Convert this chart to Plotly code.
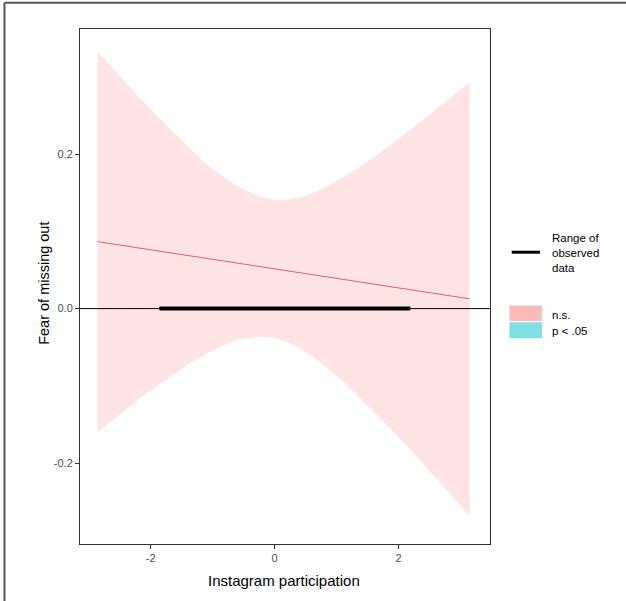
import plotly.graph_objects as go

# Data
x_grid = [-2.86, -2.5, -2.0, -1.5, -1.0, -0.5, 0.0, 0.5, 1.0, 1.5, 2.0, 2.5, 3.15]
ci_upper = [0.333, 0.301, 0.258, 0.218, 0.181, 0.154, 0.141, 0.146, 0.165, 0.190, 0.220, 0.251, 0.293]
ci_lower = [-0.160, -0.137, -0.106, -0.078, -0.054, -0.039, -0.038, -0.056, -0.087, -0.125, -0.166, -0.210, -0.268]
slope_x = [-2.86, 3.15]
slope_y = [0.0867, 0.0126]
observed_range = [-1.86, 2.19]

x_ticks = [-2, 0, 2]
x_tick_text = ["-2", "0", "2"]
y_ticks = [-0.2, 0.0, 0.2]
y_tick_text = ["-0.2", "0.0", "0.2"]

PINK_FILL = "rgba(248,118,109,0.2)"
LINE_RED = "rgb(214,100,98)"
FONT = "Liberation Sans, Arial, sans-serif"

fig = go.Figure()
fig.add_trace(go.Scatter(x=x_grid, y=ci_upper, mode="lines", line=dict(width=0, shape="spline"),
                         showlegend=False, hoverinfo="skip"))
fig.add_trace(go.Scatter(x=x_grid, y=ci_lower, mode="lines", line=dict(width=0, shape="spline"),
                         fill="tonexty", fillcolor=PINK_FILL, showlegend=False, hoverinfo="skip"))
fig.add_trace(go.Scatter(x=slope_x, y=slope_y, mode="lines", line=dict(color=LINE_RED, width=1),
                         showlegend=False))
fig.add_hline(y=0, line=dict(color="black", width=1))
fig.add_trace(go.Scatter(x=observed_range, y=[0, 0], mode="lines", line=dict(color="black", width=4),
                         showlegend=False))

L, R, T, B = 79.6, 490.0, 29.2, 544.0
W, H = 626, 601
pw, ph = R - L, B - T


def px(xp):
    return (xp - L) / pw


def py(yp):
    return (B - yp) / ph


shapes = []
# outer picture border (left and top)
shapes.append(dict(type="line", xref="paper", yref="paper", x0=px(4), x1=px(4), y0=py(W + 10), y1=py(3),
                   line=dict(color="#555555", width=2)))
shapes.append(dict(type="line", xref="paper", yref="paper", x0=px(4), x1=px(W + 10), y0=py(3), y1=py(3),
                   line=dict(color="#555555", width=2)))
# legend keys
shapes.append(dict(type="line", xref="paper", yref="paper", x0=px(511.7), x1=px(540), y0=py(252.3), y1=py(252.3),
                   line=dict(color="black", width=3)))
shapes.append(dict(type="rect", xref="paper", yref="paper", x0=px(509.5), x1=px(542), y0=py(321), y1=py(305.7),
                   fillcolor="rgba(248,118,109,0.5)", line=dict(width=0)))
shapes.append(dict(type="rect", xref="paper", yref="paper", x0=px(509.5), x1=px(542), y0=py(338.3), y1=py(322.3),
                   fillcolor="rgba(0,191,196,0.5)", line=dict(width=0)))
for s in shapes:
    fig.add_shape(**s)

annotations = [
    dict(text="Range of<br>observed<br>data", x=px(551), y=py(253.5), xanchor="left", yanchor="middle", align="left"),
    dict(text="n.s.", x=px(551), y=py(315), xanchor="left", yanchor="middle"),
    dict(text="p < .05", x=px(551), y=py(331.5), xanchor="left", yanchor="middle"),
]
for a in annotations:
    fig.add_annotation(**a, xref="paper", yref="paper", showarrow=False, borderpad=0,
                       font=dict(family=FONT, size=11.5, color="black"))

fig.add_annotation(text="Instagram participation", x=px(284), y=py(580.5), xref="paper", yref="paper",
                   showarrow=False, xanchor="center", yanchor="middle",
                   font=dict(family=FONT, size=15, color="black"))
fig.add_annotation(text="Fear of missing out", x=px(43.5), y=py(283), xref="paper", yref="paper",
                   showarrow=False, xanchor="center", yanchor="middle", textangle=-90,
                   font=dict(family=FONT, size=14.5, color="black"))

fig.update_layout(
    width=W, height=H,
    margin=dict(l=L, r=W - R, t=T, b=H - B),
    plot_bgcolor="white", paper_bgcolor="white",
    showlegend=False,
)
fig.update_xaxes(range=[-3.142, 3.477], tickvals=x_ticks, ticktext=x_tick_text, ticks="outside", ticklen=4,
                 tickcolor="#333333", showline=True, linecolor="#333333", linewidth=1, mirror=True,
                 showgrid=False, zeroline=False,
                 tickfont=dict(family=FONT, size=11, color="#4D4D4D"))
fig.update_yaxes(range=[-0.3046, 0.3618], tickvals=y_ticks, ticktext=y_tick_text, ticks="outside", ticklen=4,
                 tickcolor="#333333", showline=True, linecolor="#333333", linewidth=1, mirror=True,
                 showgrid=False, zeroline=False,
                 tickfont=dict(family=FONT, size=11, color="#4D4D4D"))

fig.write_html("out.html")
